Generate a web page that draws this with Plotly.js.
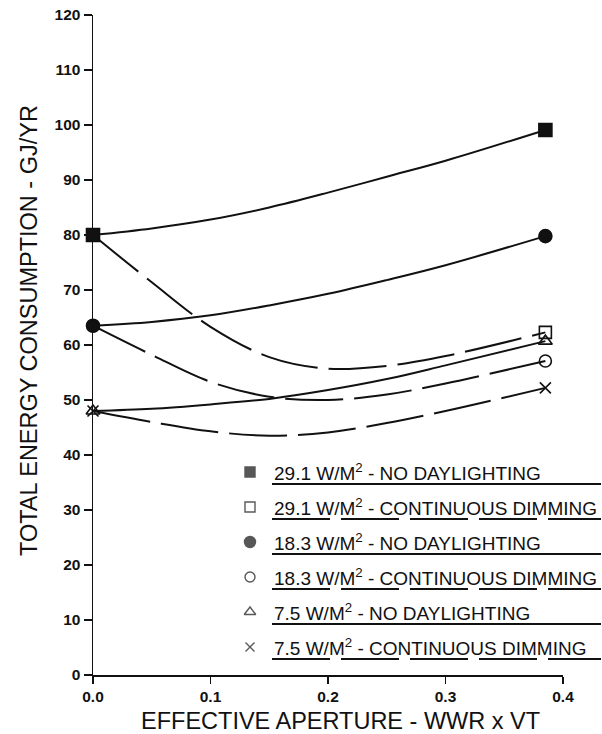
<!DOCTYPE html>
<html>
<head>
<meta charset="utf-8">
<script src="https://cdn.plot.ly/plotly-3.0.1.min.js"></script>
<style>
  html, body { margin: 0; padding: 0; background: #fff; }
  #chart { width: 602px; height: 734px; }
</style>
</head>
<body>
<div id="chart"></div>
<script>
// ---- data ----
const aperture = [0, 0.05, 0.1, 0.15, 0.2, 0.25, 0.3, 0.385];
const noDay291 = [80, 81.2, 82.8, 85.0, 87.7, 90.6, 93.5, 99.1];
const dim291   = [80, 71.4, 63.3, 57.8, 55.7, 56.2, 58.0, 62.3];
const noDay183 = [63.5, 64.2, 65.4, 67.2, 69.3, 71.8, 74.5, 79.8];
const dim183   = [63.5, 58.2, 53.3, 50.6, 50.0, 51.0, 53.0, 57.1];
const noDay75  = [48, 48.4, 49.2, 50.2, 51.8, 53.8, 56.3, 60.7];
const dim75    = [48, 46.0, 44.3, 43.5, 44.1, 45.8, 48.0, 52.2];

const seriesNames = [
  "29.1 W/M<sup>2</sup> - NO DAYLIGHTING",
  "29.1 W/M<sup>2</sup> - CONTINUOUS DIMMING",
  "18.3 W/M<sup>2</sup> - NO DAYLIGHTING",
  "18.3 W/M<sup>2</sup> - CONTINUOUS DIMMING",
  "7.5 W/M<sup>2</sup> - NO DAYLIGHTING",
  "7.5 W/M<sup>2</sup> - CONTINUOUS DIMMING"
];
const xTickVals = [0, 0.1, 0.2, 0.3, 0.4];
const xTickText = ["0.0", "0.1", "0.2", "0.3", "0.4"];
const xTitle = "EFFECTIVE APERTURE - WWR x VT";
const yTitle = "TOTAL ENERGY CONSUMPTION - GJ/YR";

// ---- styles ----
const INK = "#111";
const FONT = "Liberation Sans, Arial, sans-serif";
const DASH = "58px,11px";
const series = [
  {y: noDay291, dash: "solid", sym: "square",           size: 13, lsize: 10},
  {y: dim291,   dash: DASH,    sym: "square-open",      size: 12, lsize: 10},
  {y: noDay183, dash: "solid", sym: "circle",           size: 13, lsize: 11},
  {y: dim183,   dash: DASH,    sym: "circle-open",      size: 12, lsize: 10},
  {y: noDay75,  dash: "solid", sym: "triangle-up-open", size: 12, lsize: 10},
  {y: dim75,    dash: DASH,    sym: "x-thin-open",      size: 11, lsize: 9}
];

const traces = [];
series.forEach((s, i) => {
  traces.push({
    x: aperture, y: s.y, type: "scatter", mode: "lines",
    line: {color: INK, width: 2, dash: s.dash, shape: "spline", smoothing: 1},
    name: seriesNames[i], showlegend: false, hoverinfo: "skip", cliponaxis: false
  });
});
// end-point markers
series.forEach((s, i) => {
  const n = aperture.length - 1;
  traces.push({
    x: [aperture[0], aperture[n]], y: [s.y[0], s.y[n]],
    type: "scatter", mode: "markers", cliponaxis: false,
    marker: {symbol: s.sym, size: s.size, color: INK, line: {color: INK, width: 1.6}},
    showlegend: false, hoverinfo: "skip"
  });
});

// ---- custom legend (marker, label, line-sample underline) ----
const L = 93, R = 563, T = 15, B = 675;            // plot area in px
const W = R - L, H = B - T;
const px2x = p => (p - L) / W;
const py2y = p => (B - p) / H;
const rowY0 = 472, rowStep = 35;
const mkX = 250, txtX = 272, ulEnd = 601;
const annotations = [];
const shapes = [];
const legX = [], legY = [], legSym = [], legSize = [];
series.forEach((s, i) => {
  const cy = rowY0 + i * rowStep;
  legX.push(px2x(mkX)); legY.push(py2y(cy));
  legSym.push(s.sym); legSize.push(s.lsize);
  annotations.push({
    xref: "paper", yref: "paper", x: px2x(txtX), y: py2y(cy),
    xanchor: "left", yanchor: "middle", showarrow: false,
    text: seriesNames[i],
    font: {family: FONT, size: 19, color: INK}
  });
  shapes.push({
    type: "line", xref: "paper", yref: "paper",
    x0: px2x(txtX), x1: px2x(ulEnd), y0: py2y(cy + 12), y1: py2y(cy + 12),
    line: {color: INK, width: 1.8, dash: s.dash}
  });
});
traces.push({
  x: legX, y: legY, xaxis: "x2", yaxis: "y2", type: "scatter", mode: "markers",
  marker: {symbol: legSym, size: legSize, color: INK, line: {color: INK, width: 1.4}},
  showlegend: false, hoverinfo: "skip", cliponaxis: false
});

// axis titles (placed as in the reference, slightly off the plot centre)
annotations.push({
  xref: "paper", yref: "paper", x: px2x(340), y: py2y(721),
  xanchor: "center", yanchor: "middle", showarrow: false,
  text: xTitle, font: {family: FONT, size: 23.5, color: INK}
});
annotations.push({
  xref: "paper", yref: "paper", x: px2x(29), y: py2y(331),
  xanchor: "center", yanchor: "middle", showarrow: false, textangle: -90,
  text: yTitle, font: {family: FONT, size: 23.5, color: INK}
});

const tickFont = {family: FONT, size: 15.5, color: INK, weight: 700};
const layout = {
  width: 602, height: 734,
  margin: {l: L, r: 602 - R, t: T, b: 734 - B},
  paper_bgcolor: "#fff", plot_bgcolor: "#fff",
  showlegend: false,
  xaxis: {
    range: [0, 0.4], tickvals: xTickVals, ticktext: xTickText,
    showline: true, linecolor: INK, linewidth: 1.5,
    ticks: "outside", ticklen: 7, tickwidth: 1.5, tickcolor: INK,
    showgrid: false, zeroline: false, tickfont: tickFont
  },
  yaxis: {
    range: [0, 120], dtick: 10,
    showline: true, linecolor: INK, linewidth: 1.5,
    ticks: "outside", ticklen: 8, tickwidth: 1.5, tickcolor: INK,
    showgrid: false, zeroline: false, tickfont: tickFont
  },
  xaxis2: {overlaying: "x", range: [0, 1], visible: false, fixedrange: true},
  yaxis2: {overlaying: "y", range: [0, 1], visible: false, fixedrange: true},
  annotations: annotations,
  shapes: shapes
};

Plotly.newPlot("chart", traces, layout, {displayModeBar: false, staticPlot: true});
</script>
</body>
</html>
